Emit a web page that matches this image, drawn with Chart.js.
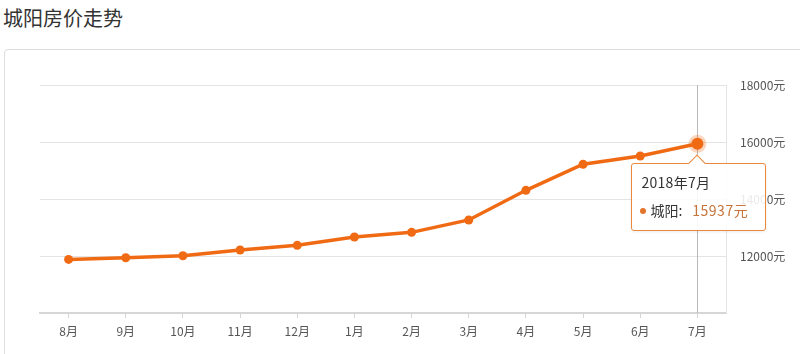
<!DOCTYPE html>
<html>
<head>
<meta charset="utf-8">
<script src="https://cdn.jsdelivr.net/npm/chart.js@4"></script>
<style>
    html, body { margin: 0; padding: 0; background: #fff; }
    body { width: 800px; height: 354px; position: relative; overflow: hidden;
           font-family: "Noto Sans CJK SC", "Noto Sans", sans-serif; }
    .title { position: absolute; left: 3px; top: 4px; font-size: 20px; color: #333; line-height: 28px; }
    .panel { position: absolute; left: 4px; top: 49px; width: 820px; height: 340px;
             border: 1px solid #dedede; border-radius: 4px; }
    #wrap { position: absolute; left: 0; top: 0; width: 800px; height: 354px; }
    #tip { position: absolute; display: none; width: 133px; height: 66px; background: rgba(255,255,255,0.88);
           border: 1px solid #e9883f; border-radius: 3px; box-shadow: 0 1px 3px rgba(0,0,0,0.08);
           font-size: 14px; color: #333; pointer-events: none; }
    #tip:before { content: ""; position: absolute; left: 59px; top: -7px; width: 11px; height: 11px;
                  background: #fff; border-left: 1px solid #e9883f; border-top: 1px solid #e9883f;
                  transform: rotate(45deg); }
    #tip .t { position: absolute; left: 9px; top: 8px; letter-spacing: 0.3px; }
    #tip .b { position: absolute; left: 8px; top: 36px; white-space: nowrap; }
    #tip .dot { display: inline-block; width: 6px; height: 6px; border-radius: 3px;
                background: #e2742b; margin-right: 4px; vertical-align: 2px; }
    #tip .v { color: #c8733a; margin-left: 10px; letter-spacing: 0.5px; }
</style>
</head>
<body>
<div class="title">城阳房价走势</div>
<div class="panel"></div>
<div id="wrap"><canvas id="chart"></canvas></div>
<div id="tip"><div class="t"></div><div class="b"></div></div>
<script>
// 城阳房价 (元/平方米)
const months = ['8月', '9月', '10月', '11月', '12月', '1月', '2月', '3月', '4月', '5月', '6月', '7月'];
const tipTitles = ['2017年8月', '2017年9月', '2017年10月', '2017年11月', '2017年12月', '2018年1月',
    '2018年2月', '2018年3月', '2018年4月', '2018年5月', '2018年6月', '2018年7月'];
const prices = [11880, 11940, 12010, 12210, 12375, 12665, 12830, 13265, 14305, 15220, 15510, 15937];
const yTicks = [10000, 12000, 14000, 16000, 18000];
const activeIndex = 11;

const ORANGE = '#f06a14';

function externalTip(context) {
    const tip = document.getElementById('tip');
    const model = context.tooltip;
    if (!model || model.opacity === 0) {
        tip.style.display = 'none';
        return;
    }
    const i = model.dataPoints[0].dataIndex;
    tip.querySelector('.t').textContent = tipTitles[i];
    tip.querySelector('.b').innerHTML = '<span class="dot"></span>城阳:<span class="v">' + prices[i] + '元</span>';
    tip.style.display = 'block';
    tip.style.left = (model.caretX - 66) + 'px';
    tip.style.top = (model.caretY + 19) + 'px';
}

// vertical hover line behind the line
const crosshair = {
    id: 'crosshair',
    beforeDatasetsDraw(chart) {
        const act = chart.getActiveElements();
        if (!act.length) return;
        const x = Math.round(act[0].element.x) + 0.5;
        const { top, bottom } = chart.chartArea;
        const ctx = chart.ctx;
        ctx.save();
        ctx.strokeStyle = '#b9b9b9';
        ctx.lineWidth = 1;
        ctx.beginPath();
        ctx.moveTo(x, top);
        ctx.lineTo(x, bottom);
        ctx.stroke();
        ctx.restore();
    }
};

const chart = new Chart(document.getElementById('chart'), {
    type: 'line',
    data: {
        labels: months,
        datasets: [{
            label: '城阳',
            data: prices,
            borderColor: ORANGE,
            backgroundColor: ORANGE,
            borderWidth: 3.5,
            tension: 0,
            pointRadius: 4.5,
            pointBorderWidth: 0,
            pointBackgroundColor: ORANGE,
            pointHoverRadius: 6,
            pointHoverBorderWidth: 6,
            pointHoverBackgroundColor: ORANGE,
            pointHoverBorderColor: 'rgba(240,106,20,0.28)'
        }]
    },
    options: {
        responsive: true,
        maintainAspectRatio: false,
        animation: false,
        events: [],
        layout: { padding: { top: 85, left: 40, right: 0, bottom: 0 } },
        plugins: {
            legend: { display: false },
            tooltip: { enabled: false, external: externalTip, mode: 'index', intersect: false }
        },
        scales: {
            x: {
                offset: true,
                grid: { display: true, drawOnChartArea: false, offset: false, tickLength: 5, color: '#d4d4d4' },
                border: { color: '#d6d6d6', width: 2 },
                ticks: { color: '#555', padding: 6, maxRotation: 0, autoSkip: false,
                         font: { size: 12, family: '"Noto Sans CJK SC", sans-serif' } },
                afterFit(scale) { scale.height = 41; }
            },
            y: {
                position: 'right',
                min: 10000,
                max: 18000,
                afterBuildTicks(scale) { scale.ticks = yTicks.map(v => ({ value: v })); },
                grid: { color: '#e4e4e4', drawTicks: false },
                border: { display: true, color: '#e4e4e4' },
                ticks: {
                    color: '#555',
                    padding: 14,
                    font: { size: 12, family: '"Noto Sans CJK SC", sans-serif' },
                    callback: v => v === 10000 ? '' : v + '元'
                },
                afterFit(scale) { scale.width = 74; }
            }
        }
    },
    plugins: [crosshair]
});

const act = [{ datasetIndex: 0, index: activeIndex }];
chart.setActiveElements(act);
chart.tooltip.setActiveElements(act, { x: 0, y: 0 });
chart.update();
</script>
</body>
</html>
